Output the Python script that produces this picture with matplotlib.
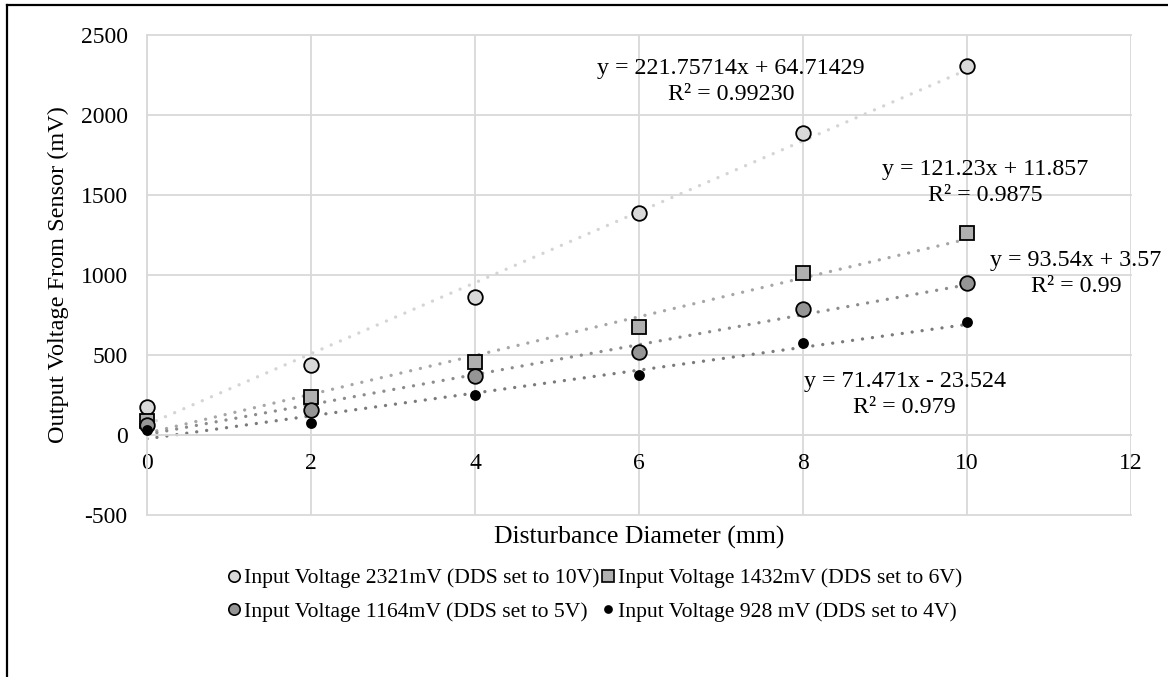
import numpy as np
import matplotlib
matplotlib.use("Agg")
import matplotlib.pyplot as plt
from matplotlib.lines import Line2D

plt.rcParams['font.family'] = ['Liberation Serif', 'DejaVu Serif']

# Disturbance diameter (mm)
diameter = [0, 2, 4, 6, 8, 10]

# Sensor output (mV) per input voltage setting
out_2321 = [172, 440, 862, 1387, 1887, 2306]
out_1432 = [90, 237, 456, 675, 1012, 1262]
out_1164 = [60, 156, 369, 519, 787, 950]
out_928 = [30, 72, 250, 372, 575, 706]

series_names = [
    "Input Voltage 2321mV (DDS set to 10V)",
    "Input Voltage 1432mV (DDS set to 6V)",
    "Input Voltage 1164mV (DDS set to 5V)",
    "Input Voltage 928 mV (DDS set to 4V)",
]

# Linear trendline coefficients and their labels
slopes = [221.75714, 121.23, 93.54, 71.471]
intercepts = [64.71429, 11.857, 3.57, -23.524]
eq_labels = [
    "y = 221.75714x + 64.71429\nR\u00b2 = 0.99230",
    "y = 121.23x + 11.857\nR\u00b2 = 0.9875",
    "y = 93.54x + 3.57\nR\u00b2 = 0.99",
    "y = 71.471x - 23.524\nR\u00b2 = 0.979",
]
eq_pos = [(7.12, 2210), (10.22, 1580), (11.33, 1010), (9.24, 252)]

x_ticks = [0, 2, 4, 6, 8, 10, 12]
y_ticks = [-500, 0, 500, 1000, 1500, 2000, 2500]

all_series = [out_2321, out_1432, out_1164, out_928]
markers = ['o', 's', 'o', 'o']
fills = ['#d9d9d9', '#b0b0b0', '#959595', '#000000']
sizes = [10.5, 10.5, 10.5, 6.5]
trend_colors = ['#d4d4d4', '#a6a6a6', '#8c8c8c', '#7a7a7a']

fig = plt.figure(figsize=(11.68, 6.77), dpi=100)
ax = fig.add_axes([147 / 1168, 1 - 515 / 677, (1131 - 147) / 1168, (515 - 35) / 677])

grid_c = '#d9d9d9'
ax.set_xlim(0, 12)
ax.set_ylim(-500, 2500)
ax.set_xticks(x_ticks)
ax.set_yticks(y_ticks)
ax.set_yticklabels([str(v) for v in y_ticks])
ax.grid(True, color=grid_c, linewidth=1.3)
for gl in ax.get_xgridlines() + ax.get_ygridlines():
    gl.set_clip_on(False)
ax.set_axisbelow(True)
for side in ['top', 'right']:
    ax.spines[side].set_visible(False)
ax.spines['left'].set_color(grid_c)
ax.spines['left'].set_linewidth(1.3)
ax.spines['bottom'].set_position(('data', 0))
ax.spines['bottom'].set_color(grid_c)
ax.spines['bottom'].set_linewidth(1.3)
ax.tick_params(axis='both', length=0, labelsize=17, colors='#000000')
ax.tick_params(axis='x', pad=13)
ax.tick_params(axis='y', pad=14)

xs = np.array([min(diameter), max(diameter)], dtype=float)
for m, b, c in zip(slopes, intercepts, trend_colors):
    ax.plot(xs, m * xs + b, color=c, linewidth=2.4,
            linestyle=(0, (0.01, 3.0)), dash_capstyle='round', zorder=2)

for ys, mk, fc, ms, name in zip(all_series, markers, fills, sizes, series_names):
    ax.plot(diameter, ys, linestyle='none', marker=mk, markersize=ms,
            markerfacecolor=fc, markeredgecolor='#000000',
            markeredgewidth=1.3, zorder=3, label=name, clip_on=False)

for (ex, ey), txt in zip(eq_pos, eq_labels):
    ax.text(ex, ey, txt, ha='center', va='center', multialignment='center',
            fontsize=17.3, linespacing=1.3, zorder=4)

fig.text(58 / 1168, 1 - 275 / 677, "Output Voltage From Sensor (mV)",
         rotation=90, ha='center', va='center', fontsize=17.5)
fig.text(639 / 1168, 1 - 537 / 677, "Disturbance Diameter (mm)",
         ha='center', va='center', fontsize=18.5)

leg_handles = []
for mk, fc, ms in zip(markers, fills, sizes):
    leg_handles.append(Line2D([], [], linestyle='none', marker=mk,
                              markersize=ms * 0.78, markerfacecolor=fc,
                              markeredgecolor='#000000', markeredgewidth=1.2))
# two columns filled row by row
order = [0, 2, 1, 3]
fig.legend([leg_handles[i] for i in order], [series_names[i] for i in order],
           loc='center', bbox_to_anchor=(595 / 1168, 1 - 595 / 677), ncol=2,
           frameon=False, fontsize=15.6, handlelength=0.6, handletextpad=0.15,
           columnspacing=0.1, labelspacing=0.62, borderaxespad=0)

# Figure frame along the top and left edges
fig.add_artist(Line2D([7 / 1168, 7 / 1168], [0, 1 - 5 / 677],
                      transform=fig.transFigure, color='#000000', linewidth=1.6))
fig.add_artist(Line2D([7 / 1168, 1], [1 - 5 / 677, 1 - 5 / 677],
                      transform=fig.transFigure, color='#000000', linewidth=1.6))

fig.savefig("out.png", dpi=100)
